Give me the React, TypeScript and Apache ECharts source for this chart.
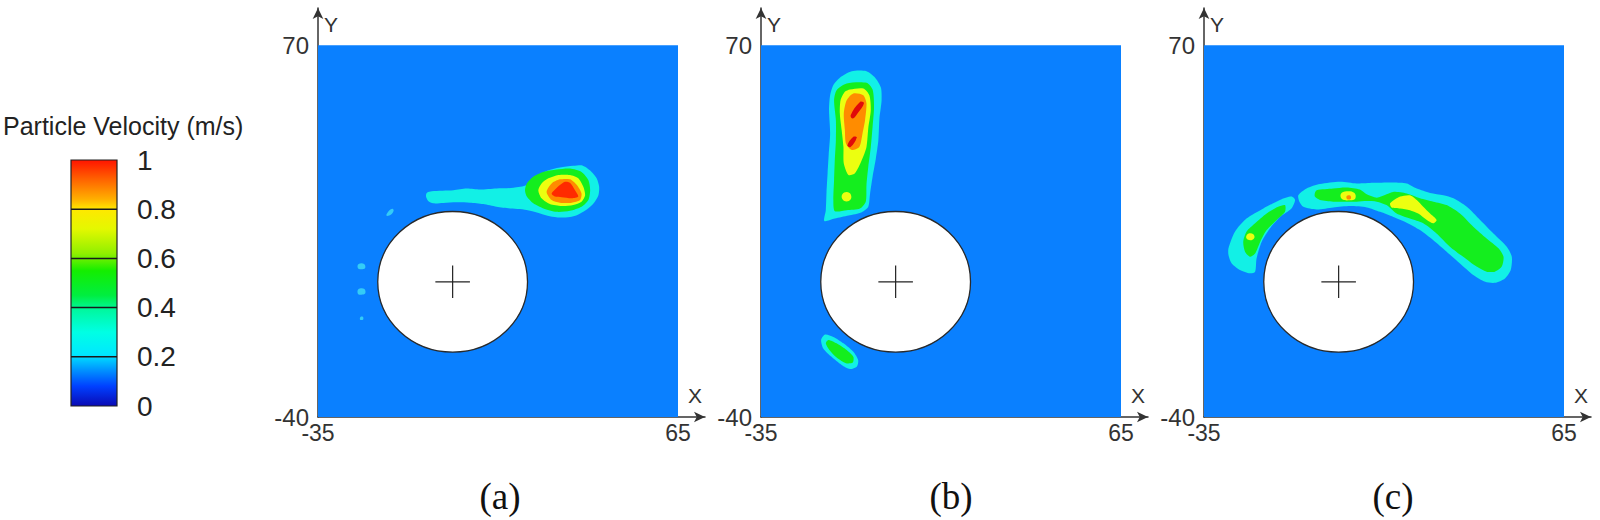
import React, { useEffect, useRef } from 'react';
import * as echarts from 'echarts';

// ---------- axes / ticks ----------
const X_TICKS = [-35, 65];
const Y_TICKS = [-40, 70];
const X_AXIS_END = 72.5;
const Y_AXIS_END = 81;
const COLORBAR_TICKS = [0, 0.2, 0.4, 0.6, 0.8, 1];
const COLORBAR_TITLE = 'Particle Velocity (m/s)';
const PANEL_LABELS = ['(a)', '(b)', '(c)'];

// colour scale of the legend (value 0..1 -> colour)
const COLORBAR_STOPS: [number, string][] = [
  [0, '#0a0ab4'],
  [0.08, '#0040ff'],
  [0.15, '#0098ff'],
  [0.21, '#00e8ff'],
  [0.3, '#00ffe4'],
  [0.39, '#00f8a0'],
  [0.45, '#00ee40'],
  [0.55, '#14ee00'],
  [0.62, '#90f000'],
  [0.72, '#e4f800'],
  [0.8, '#ffe800'],
  [0.84, '#ffb000'],
  [0.92, '#ff6400'],
  [1, '#ff1400'],
];

// cylinder (white disc with centre cross), data units
const CYLINDER = { cx: 2.4, cy: 0, r: 20.8, cross: 4.8 };

// ---------- panel (a) contour bands ----------
const A_CYAN = [[-4.8,26.3],[-3.4,26.8],[2.6,27.1],[6.3,27.6],[10.0,27.3],[14.6,27.6],[19.3,27.8],[23.0,28.6],[25.7,31.1],[28.5,32.8],[32.2,33.8],[35.9,34.3],[38.2,34.5],[39.2,34.0],[41.0,32.5],[42.4,30.6],[43.1,28.1],[42.9,25.6],[41.9,23.7],[40.6,22.2],[38.7,20.7],[36.9,19.7],[35.0,19.2],[32.2,19.0],[29.4,19.4],[26.7,20.2],[23.9,21.0],[21.1,21.5],[18.3,21.7],[14.6,22.2],[10.9,23.0],[7.2,23.4],[3.5,23.5],[-0.2,23.3],[-3.0,23.2],[-4.4,23.9],[-5.0,25.2]];
const A_GREEN = [[22.5,27.1],[23.0,29.1],[24.8,31.1],[27.6,32.5],[31.3,33.2],[35.0,33.5],[38.2,32.5],[40.1,30.1],[40.6,27.1],[40.1,24.2],[38.2,22.2],[35.0,21.0],[31.3,20.7],[27.6,21.7],[24.8,23.2],[23.0,25.2]];
const A_YELLOW = [[26.2,27.1],[27.1,29.1],[29.0,30.6],[31.8,31.6],[35.0,31.6],[37.3,30.6],[38.7,28.1],[39.2,25.6],[38.2,23.7],[35.9,22.7],[32.7,22.4],[29.4,23.0],[27.1,24.7]];
const A_ORANGE = [[28.5,26.6],[29.9,29.1],[32.2,30.3],[35.0,30.3],[36.9,28.6],[38.2,26.1],[37.8,24.2],[35.5,23.4],[32.2,23.4],[29.9,24.2]];
const A_RED = [[29.9,26.1],[32.2,28.6],[33.6,29.6],[35.0,29.3],[36.4,27.1],[37.3,25.2],[35.5,24.7],[32.7,25.0],[30.8,25.2]];
const A_DOT_1 = [[-16.0,19.6],[-15.4,20.9],[-14.3,21.6],[-14.0,21.0],[-14.8,19.8]];
const A_DOT_2 = [[-23.9,4.0],[-23.8,5.2],[-22.2,5.3],[-21.9,4.1],[-23.0,3.7]];
const A_DOT_3 = [[-23.9,-3.6],[-23.8,-2.2],[-22.1,-2.1],[-21.9,-3.5],[-23.0,-3.8]];
const A_DOT_4 = [[-23.3,-11.2],[-23.2,-10.4],[-22.5,-10.4],[-22.5,-11.2]];

// ---------- panel (b) contour bands ----------
const B_CYAN = [[-9.8,62.3],[-5.7,62.3],[-3.3,60.4],[-1.7,57.5],[-1.5,53.7],[-2.1,48.3],[-2.4,41.9],[-3.1,36.5],[-4.0,31.1],[-4.7,26.1],[-5.2,22.2],[-7.0,20.6],[-10.7,19.6],[-14.5,18.7],[-17.4,18.0],[-17.0,21.2],[-16.8,26.6],[-16.5,32.1],[-16.2,37.5],[-15.8,43.9],[-16.1,50.8],[-15.8,55.2],[-14.9,58.2],[-13.1,60.4]];
const B_GREEN = [[-11.2,58.7],[-5.7,58.9],[-4.0,56.9],[-3.6,51.8],[-4.0,45.9],[-4.5,39.9],[-5.2,34.0],[-5.7,28.6],[-5.9,23.7],[-7.5,21.7],[-11.2,21.2],[-14.5,20.9],[-14.9,24.2],[-14.7,30.1],[-14.5,36.0],[-14.2,41.9],[-14.2,47.8],[-14.7,53.7],[-14.0,56.7]];
const B_YELLOW = [[-10.3,56.9],[-6.6,57.2],[-4.9,55.2],[-4.5,50.8],[-5.2,45.4],[-5.7,39.9],[-7.0,36.0],[-8.9,32.1],[-10.7,31.6],[-12.0,35.0],[-12.1,39.9],[-12.6,44.9],[-13.1,49.8],[-12.9,53.7],[-11.7,56.2]];
const B_YELLOW_DOT = [[-12.6,25.2],[-11.9,26.4],[-10.4,26.3],[-9.9,25.0],[-10.6,23.9],[-12.0,24.0]];
const B_ORANGE = [[-9.35,55.7],[-6.6,55.2],[-5.7,52.8],[-6.1,47.8],[-6.8,43.9],[-7.7,39.9],[-9.8,39.0],[-11.4,40.9],[-11.7,44.9],[-12.0,49.8],[-11.2,53.7]];
const B_RED_1 = [[-10.1,49.3],[-7.5,53.2],[-6.4,52.8],[-8.2,49.8],[-9.5,48.3]];
const B_RED_2 = [[-11.0,40.4],[-9.35,42.9],[-8.4,42.7],[-10.1,39.9]];
const B_LOW_CYAN = [[-17.2,-15.6],[-14.9,-16.3],[-12.1,-18.2],[-9.35,-20.7],[-8.0,-23.2],[-8.4,-25.1],[-10.3,-25.8],[-12.6,-24.6],[-15.4,-22.2],[-17.7,-19.7],[-18.3,-17.2]];
const B_LOW_GREEN = [[-16.3,-17.2],[-14.0,-18.2],[-11.2,-20.2],[-9.35,-22.2],[-9.5,-23.9],[-11.4,-24.1],[-14.0,-22.4],[-16.0,-20.2],[-17.0,-18.2]];

// ---------- panel (c) contour bands ----------
const C_LEFT_CYAN = [[-28.2,7.9],[-28.2,9.9],[-26.4,14.8],[-23.2,18.7],[-18.5,21.7],[-13.9,24.2],[-10.7,25.2],[-9.7,24.2],[-10.7,21.7],[-13.9,19.2],[-16.7,15.8],[-19.0,11.8],[-20.4,6.9],[-20.8,3.0],[-22.2,2.5],[-25.0,3.5],[-27.3,5.4]];
const C_LEFT_GREEN = [[-24.1,11.8],[-23.2,14.8],[-20.8,17.3],[-17.6,20.2],[-14.4,22.2],[-12.5,22.7],[-12.5,20.7],[-14.8,18.3],[-17.6,15.3],[-19.4,11.8],[-20.8,8.4],[-22.2,7.4],[-23.6,8.9]];
const C_LEFT_YELLOW = [[-23.3,13.3],[-22.6,14.3],[-21.3,14.1],[-21.0,13.0],[-21.8,12.3],[-22.9,12.5]];
const C_RIGHT_CYAN = [[-8.8,25.6],[-6.5,27.6],[-2.8,28.9],[2.8,29.6],[7.4,29.1],[12.0,29.3],[17.6,29.4],[21.3,29.1],[24.1,27.6],[27.8,26.3],[31.5,25.6],[34.3,24.7],[38.0,22.2],[41.7,18.3],[45.4,14.3],[49.1,10.4],[50.5,7.4],[50.2,3.5],[48.6,1.0],[45.8,-0.3],[43.1,0.0],[39.8,2.0],[36.1,5.4],[32.4,8.9],[28.7,12.3],[25.0,15.3],[21.3,17.5],[17.6,19.2],[13.9,20.7],[10.2,22.0],[5.6,22.4],[0.9,22.0],[-3.7,21.4],[-7.4,22.2],[-8.5,23.7]];
const C_RIGHT_GREEN = [[-4.2,26.3],[-3.7,27.1],[0.9,27.6],[4.6,27.9],[8.3,27.3],[10.2,25.9],[13.0,24.9],[15.7,25.9],[17.6,26.6],[21.3,26.1],[25.0,24.7],[28.7,23.7],[32.4,22.7],[36.1,20.2],[39.8,16.3],[43.5,12.8],[46.8,9.9],[48.2,7.4],[47.7,4.5],[45.8,3.0],[43.5,3.0],[40.7,4.5],[37.0,7.4],[33.3,10.4],[29.6,14.3],[25.9,17.3],[22.2,18.7],[18.5,20.2],[15.7,22.7],[13.0,23.7],[10.2,23.9],[7.4,23.7],[4.6,23.7],[0.9,23.7],[-2.8,24.2],[-4.2,25.2]];
const C_YELLOW_1 = [[3.0,26.0],[4.6,26.8],[6.8,26.3],[7.0,24.6],[5.6,24.1],[3.4,24.4]];
const C_ORANGE_DOT = [[4.6,25.3],[5.6,25.5],[5.8,24.6],[4.8,24.4]];
const C_YELLOW_2 = [[16.7,23.2],[19.5,25.2],[22.2,25.6],[24.1,24.2],[25.9,22.2],[27.8,20.2],[29.6,18.3],[28.7,17.3],[26.9,18.3],[24.5,20.2],[22.2,21.2],[19.5,21.7],[17.1,22.0]];

// ---------- styles ----------
const LEVEL_COLORS: Record<string, string> = {
  base: '#0a80ff',
  speck: '#34ccf6',
  cyan: '#12f0e6',
  green: '#14ee1e',
  yellow: '#ecff10',
  orange: '#ff8c00',
  red: '#ff2a00',
  darkred: '#e00a0a',
};
const AXIS_COLOR = '#333333';
const SANS = '"Liberation Sans", Arial, sans-serif';
const SERIF = '"Liberation Serif", "Times New Roman", serif';

type Band = { level: string; pts: number[][] };
const PANELS: Band[][] = [
  [
    { level: 'cyan', pts: A_CYAN },
    { level: 'green', pts: A_GREEN },
    { level: 'yellow', pts: A_YELLOW },
    { level: 'orange', pts: A_ORANGE },
    { level: 'red', pts: A_RED },
    { level: 'speck', pts: A_DOT_1 },
    { level: 'speck', pts: A_DOT_2 },
    { level: 'speck', pts: A_DOT_3 },
    { level: 'speck', pts: A_DOT_4 },
  ],
  [
    { level: 'cyan', pts: B_CYAN },
    { level: 'green', pts: B_GREEN },
    { level: 'yellow', pts: B_YELLOW },
    { level: 'yellow', pts: B_YELLOW_DOT },
    { level: 'orange', pts: B_ORANGE },
    { level: 'darkred', pts: B_RED_1 },
    { level: 'darkred', pts: B_RED_2 },
    { level: 'cyan', pts: B_LOW_CYAN },
    { level: 'green', pts: B_LOW_GREEN },
  ],
  [
    { level: 'cyan', pts: C_LEFT_CYAN },
    { level: 'green', pts: C_LEFT_GREEN },
    { level: 'yellow', pts: C_LEFT_YELLOW },
    { level: 'cyan', pts: C_RIGHT_CYAN },
    { level: 'green', pts: C_RIGHT_GREEN },
    { level: 'yellow', pts: C_YELLOW_1 },
    { level: 'orange', pts: C_ORANGE_DOT },
    { level: 'yellow', pts: C_YELLOW_2 },
  ],
];

const GRID_LEFTS = [318, 761, 1204];
const LABEL_X = [500, 951, 1393];

function buildOption() {
  const grids: any[] = [];
  const xAxes: any[] = [];
  const yAxes: any[] = [];
  const series: any[] = [];

  const domain = [
    [X_TICKS[0], Y_TICKS[0]],
    [X_TICKS[1], Y_TICKS[0]],
    [X_TICKS[1], Y_TICKS[1]],
    [X_TICKS[0], Y_TICKS[1]],
  ];

  PANELS.forEach((bands, i) => {
    grids.push({ left: GRID_LEFTS[i], top: 8, width: 387, height: 409, outerBoundsMode: 'none' });
    xAxes.push({
      type: 'value',
      gridIndex: i,
      min: X_TICKS[0],
      max: X_AXIS_END,
      axisLine: { show: true, onZero: false, symbol: ['none', 'arrow'], symbolSize: [8, 11], lineStyle: { color: AXIS_COLOR, width: 1.5 } },
      axisTick: { show: false },
      splitLine: { show: false },
      axisLabel: { customValues: X_TICKS, fontSize: 23, color: AXIS_COLOR, fontFamily: SANS, margin: 4 },
      name: 'X',
      nameLocation: 'end',
      nameGap: -10,
      nameTextStyle: { fontSize: 21, color: AXIS_COLOR, fontFamily: SANS, align: 'center', verticalAlign: 'bottom', padding: [0, 0, 11, 0] },
    });
    yAxes.push({
      type: 'value',
      gridIndex: i,
      min: Y_TICKS[0],
      max: Y_AXIS_END,
      axisLine: { show: true, onZero: false, symbol: ['none', 'arrow'], symbolSize: [8, 11], lineStyle: { color: AXIS_COLOR, width: 1.5 } },
      axisTick: { show: false },
      splitLine: { show: false },
      axisLabel: { customValues: Y_TICKS, fontSize: 24, color: AXIS_COLOR, fontFamily: SANS, margin: 9 },
      name: 'Y',
      nameLocation: 'end',
      nameGap: -6,
      nameTextStyle: { fontSize: 21, color: AXIS_COLOR, fontFamily: SANS, align: 'left', verticalAlign: 'top', padding: [0, 0, 0, 6] },
    });

    const shapes: any[] = [{ kind: 'poly', level: 'base', pts: domain, smooth: 0 }];
    bands.forEach((b) => shapes.push({ kind: 'poly', level: b.level, pts: b.pts, smooth: b.pts.length > 6 ? 0.25 : 0.4 }));
    shapes.push({ kind: 'cylinder' });

    series.push({
      type: 'custom',
      coordinateSystem: 'cartesian2d',
      xAxisIndex: i,
      yAxisIndex: i,
      silent: true,
      data: shapes.map((s) => (s.kind === 'poly' ? s.pts[0] : [CYLINDER.cx, CYLINDER.cy])),
      renderItem: (params: any, api: any) => {
        const s = shapes[params.dataIndex];
        if (s.kind === 'poly') {
          return {
            type: 'polygon',
            shape: { points: s.pts.map((p: number[]) => api.coord(p)), smooth: s.smooth },
            style: { fill: LEVEL_COLORS[s.level] },
          };
        }
        const c = api.coord([CYLINDER.cx, CYLINDER.cy]);
        const r = api.size([CYLINDER.r, CYLINDER.r]);
        const arm = api.size([CYLINDER.cross, CYLINDER.cross]);
        return {
          type: 'group',
          children: [
            { type: 'ellipse', shape: { cx: c[0], cy: c[1], rx: r[0], ry: r[1] }, style: { fill: '#ffffff', stroke: '#2a2a2a', lineWidth: 1.3 } },
            { type: 'line', shape: { x1: c[0] - arm[0], y1: c[1], x2: c[0] + arm[0], y2: c[1] }, style: { stroke: '#222', lineWidth: 1.2 } },
            { type: 'line', shape: { x1: c[0], y1: c[1] - arm[1], x2: c[0], y2: c[1] + arm[1] }, style: { stroke: '#222', lineWidth: 1.2 } },
          ],
        };
      },
    });
  });

  // colour bar
  grids.push({ left: 71, top: 160, width: 46, height: 246, outerBoundsMode: 'none' });
  xAxes.push({ type: 'value', gridIndex: 3, min: 0, max: 1, show: false });
  yAxes.push({
    type: 'value',
    gridIndex: 3,
    min: 0,
    max: 1,
    interval: 0.2,
    position: 'right',
    axisLine: { show: false },
    axisTick: { show: false },
    splitLine: { show: false },
    axisLabel: { fontSize: 28, color: '#222', fontFamily: SANS, margin: 20, padding: [12, 0, 0, 0] },
  });
  series.push({
    type: 'custom',
    coordinateSystem: 'cartesian2d',
    xAxisIndex: 3,
    yAxisIndex: 3,
    silent: true,
    data: COLORBAR_TICKS.map((v) => [0, v]),
    renderItem: (params: any, api: any) => {
      const v = api.value(1);
      const lo = api.coord([0, 0]);
      const hi = api.coord([1, 1]);
      if (params.dataIndex === 0) {
        return {
          type: 'rect',
          shape: { x: lo[0], y: hi[1], width: hi[0] - lo[0], height: lo[1] - hi[1] },
          style: {
            fill: new echarts.graphic.LinearGradient(0, 1, 0, 0, COLORBAR_STOPS.map(([o, c]) => ({ offset: o, color: c }))),
            stroke: '#222',
            lineWidth: 1.2,
          },
        };
      }
      if (v >= 1) return null;
      const a = api.coord([0, v]);
      const b = api.coord([1, v]);
      return { type: 'line', z2: 10, shape: { x1: a[0], y1: a[1], x2: b[0], y2: b[1] }, style: { stroke: '#1a1a1a', lineWidth: 1.5 } };
    },
  });

  return {
    animation: false,
    backgroundColor: '#ffffff',
    title: [
      { text: COLORBAR_TITLE, left: 3, top: 113, padding: 0, textStyle: { fontSize: 25, fontWeight: 'normal', color: '#222', fontFamily: SANS } },
    ],
    grid: grids,
    xAxis: xAxes,
    yAxis: yAxes,
    series,
    graphic: PANEL_LABELS.map((t, i) => ({
      type: 'text',
      x: LABEL_X[i],
      y: 496,
      style: { text: t, fontSize: 37, fontFamily: SERIF, fill: '#111', align: 'center', verticalAlign: 'middle' },
    })),
  };
}

export default function App() {
  const ref = useRef<HTMLDivElement>(null);
  useEffect(() => {
    if (!ref.current) return;
    const chart = echarts.init(ref.current, undefined, { renderer: 'svg' });
    chart.setOption(buildOption() as any);
    return () => chart.dispose();
  }, []);
  return <div ref={ref} style={{ position: 'absolute', left: 0, top: 0, width: 1600, height: 520 }} />;
}
